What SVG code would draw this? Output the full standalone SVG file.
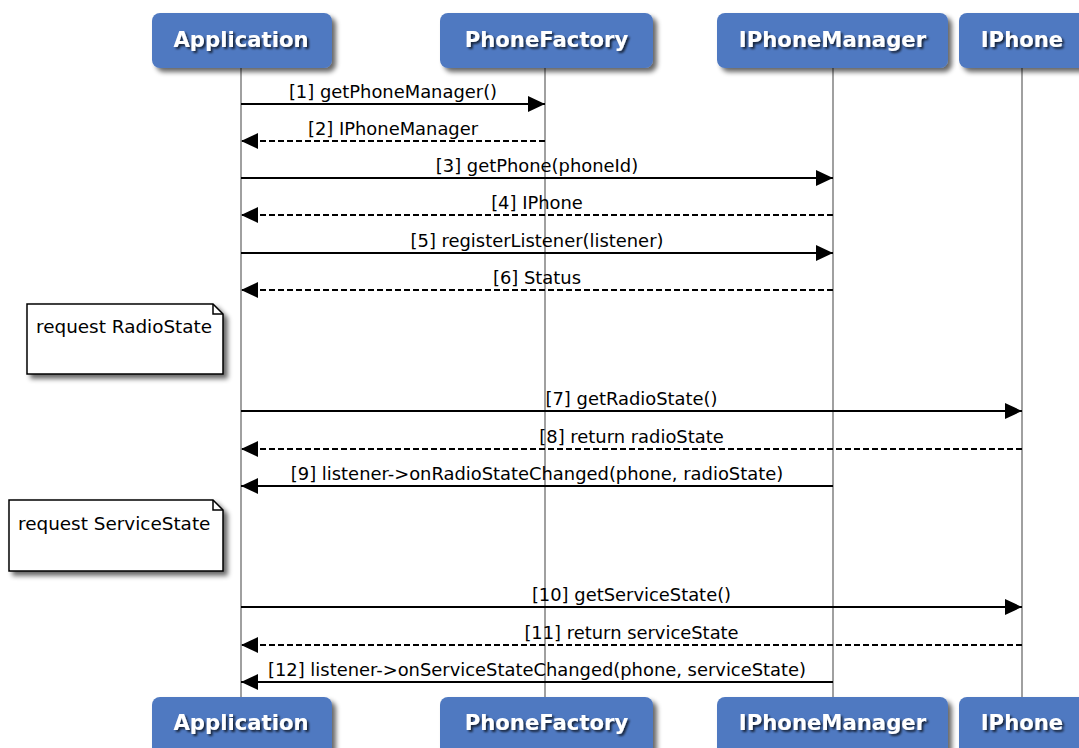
<svg xmlns="http://www.w3.org/2000/svg" width="1079" height="748" viewBox="0 0 1079 748">
<defs>
<filter id="sh" x="-20%" y="-20%" width="150%" height="160%">
<feGaussianBlur in="SourceAlpha" stdDeviation="2.5"/>
<feOffset dx="4" dy="4" result="b"/>
<feComponentTransfer><feFuncA type="linear" slope="0.6"/></feComponentTransfer>
<feMerge><feMergeNode/><feMergeNode in="SourceGraphic"/></feMerge>
</filter>
<filter id="tsh" x="-10%" y="-30%" width="120%" height="160%">
<feGaussianBlur in="SourceAlpha" stdDeviation="1.2"/>
<feOffset dx="1.5" dy="1.5"/>
<feComponentTransfer><feFuncA type="linear" slope="0.7"/></feComponentTransfer>
<feMerge><feMergeNode/><feMergeNode in="SourceGraphic"/></feMerge>
</filter>
<marker id="ah" viewBox="0 0 17 16" refX="17" refY="8" markerWidth="17" markerHeight="16" markerUnits="userSpaceOnUse" orient="auto">
<path d="M0,0 L17,8 L0,16 Z" fill="#000"/>
</marker>
</defs>
<style>
.box{fill:#4F79C1;filter:url(#sh)}
.bt{font-family:"DejaVu Sans",sans-serif;font-weight:bold;font-size:21.2px;fill:#fff;text-anchor:middle;filter:url(#tsh)}
.life{stroke:#A0A0A0;stroke-width:2;fill:none}
.msg{stroke:#000;stroke-width:2;fill:none;marker-end:url(#ah)}
.dash{stroke-dasharray:6,3}
.mt{font-family:"DejaVu Sans",sans-serif;font-size:17.9px;fill:#000;text-anchor:middle}
.note{fill:#fff;stroke:#000;stroke-width:1.5;filter:url(#sh)}
.nt{font-family:"DejaVu Sans",sans-serif;font-size:18.4px;fill:#000}
</style>
<rect width="1079" height="748" fill="#fff"/>
<g id="lifelines">
<line class="life" x1="241" y1="68" x2="241" y2="697"/>
<line class="life" x1="545" y1="68" x2="545" y2="697"/>
<line class="life" x1="833" y1="68" x2="833" y2="697"/>
<line class="life" x1="1022" y1="68" x2="1022" y2="697"/>
</g>
<g id="participant-application">
<rect class="box" x="152" y="13" width="180" height="55" rx="8"/>
<text class="bt" x="241" y="47">Application</text>
<rect class="box" x="152" y="697" width="180" height="60" rx="8"/>
<text class="bt" x="241" y="730">Application</text>
</g>
<g id="participant-phonefactory">
<rect class="box" x="440" y="13" width="213" height="55" rx="8"/>
<text class="bt" x="546.5" y="47">PhoneFactory</text>
<rect class="box" x="440" y="697" width="213" height="60" rx="8"/>
<text class="bt" x="546.5" y="730">PhoneFactory</text>
</g>
<g id="participant-iphonemanager">
<rect class="box" x="717" y="13" width="231" height="55" rx="8"/>
<text class="bt" x="832.5" y="47">IPhoneManager</text>
<rect class="box" x="717" y="697" width="231" height="60" rx="8"/>
<text class="bt" x="832.5" y="730">IPhoneManager</text>
</g>
<g id="participant-iphone">
<rect class="box" x="959" y="13" width="128" height="55" rx="8"/>
<text class="bt" x="1022" y="47">IPhone</text>
<rect class="box" x="959" y="697" width="128" height="60" rx="8"/>
<text class="bt" x="1022" y="730">IPhone</text>
</g>
<g id="note-radio">
<path class="note" d="M27,304 L213,304 L223,314 L223,374 L27,374 Z"/>
<path d="M213,304 L213,314 L223,314" fill="none" stroke="#000" stroke-width="1.5"/>
<text class="nt" x="36" y="333">request RadioState</text>
</g>
<g id="note-service">
<path class="note" d="M9,500 L213,500 L223,510 L223,571 L9,571 Z"/>
<path d="M213,500 L213,510 L223,510" fill="none" stroke="#000" stroke-width="1.5"/>
<text class="nt" x="18" y="530">request ServiceState</text>
</g>
<g id="connectors">
<line class="msg" x1="241" y1="104" x2="545" y2="104"/>
<line class="msg dash" x1="545" y1="141" x2="241" y2="141"/>
<line class="msg" x1="241" y1="178" x2="833" y2="178"/>
<line class="msg dash" x1="833" y1="215" x2="241" y2="215"/>
<line class="msg" x1="241" y1="253" x2="833" y2="253"/>
<line class="msg dash" x1="833" y1="290" x2="241" y2="290"/>
<line class="msg" x1="241" y1="411" x2="1022" y2="411"/>
<line class="msg dash" x1="1022" y1="449" x2="241" y2="449"/>
<line class="msg" x1="833" y1="486" x2="241" y2="486"/>
<line class="msg" x1="241" y1="607" x2="1022" y2="607"/>
<line class="msg dash" x1="1022" y1="645" x2="241" y2="645"/>
<line class="msg" x1="833" y1="682" x2="241" y2="682"/>
</g>
<g id="labels">
<text class="mt" x="393" y="98">[1] getPhoneManager()</text>
<text class="mt" x="393" y="135">[2] IPhoneManager</text>
<text class="mt" x="537" y="172">[3] getPhone(phoneId)</text>
<text class="mt" x="537" y="209">[4] IPhone</text>
<text class="mt" x="537" y="247">[5] registerListener(listener)</text>
<text class="mt" x="537" y="284">[6] Status</text>
<text class="mt" x="631.5" y="405">[7] getRadioState()</text>
<text class="mt" x="631.5" y="443">[8] return radioState</text>
<text class="mt" x="537" y="480">[9] listener-&gt;onRadioStateChanged(phone, radioState)</text>
<text class="mt" x="631.5" y="601">[10] getServiceState()</text>
<text class="mt" x="631.5" y="639">[11] return serviceState</text>
<text class="mt" x="537" y="676">[12] listener-&gt;onServiceStateChanged(phone, serviceState)</text>
</g>
</svg>
